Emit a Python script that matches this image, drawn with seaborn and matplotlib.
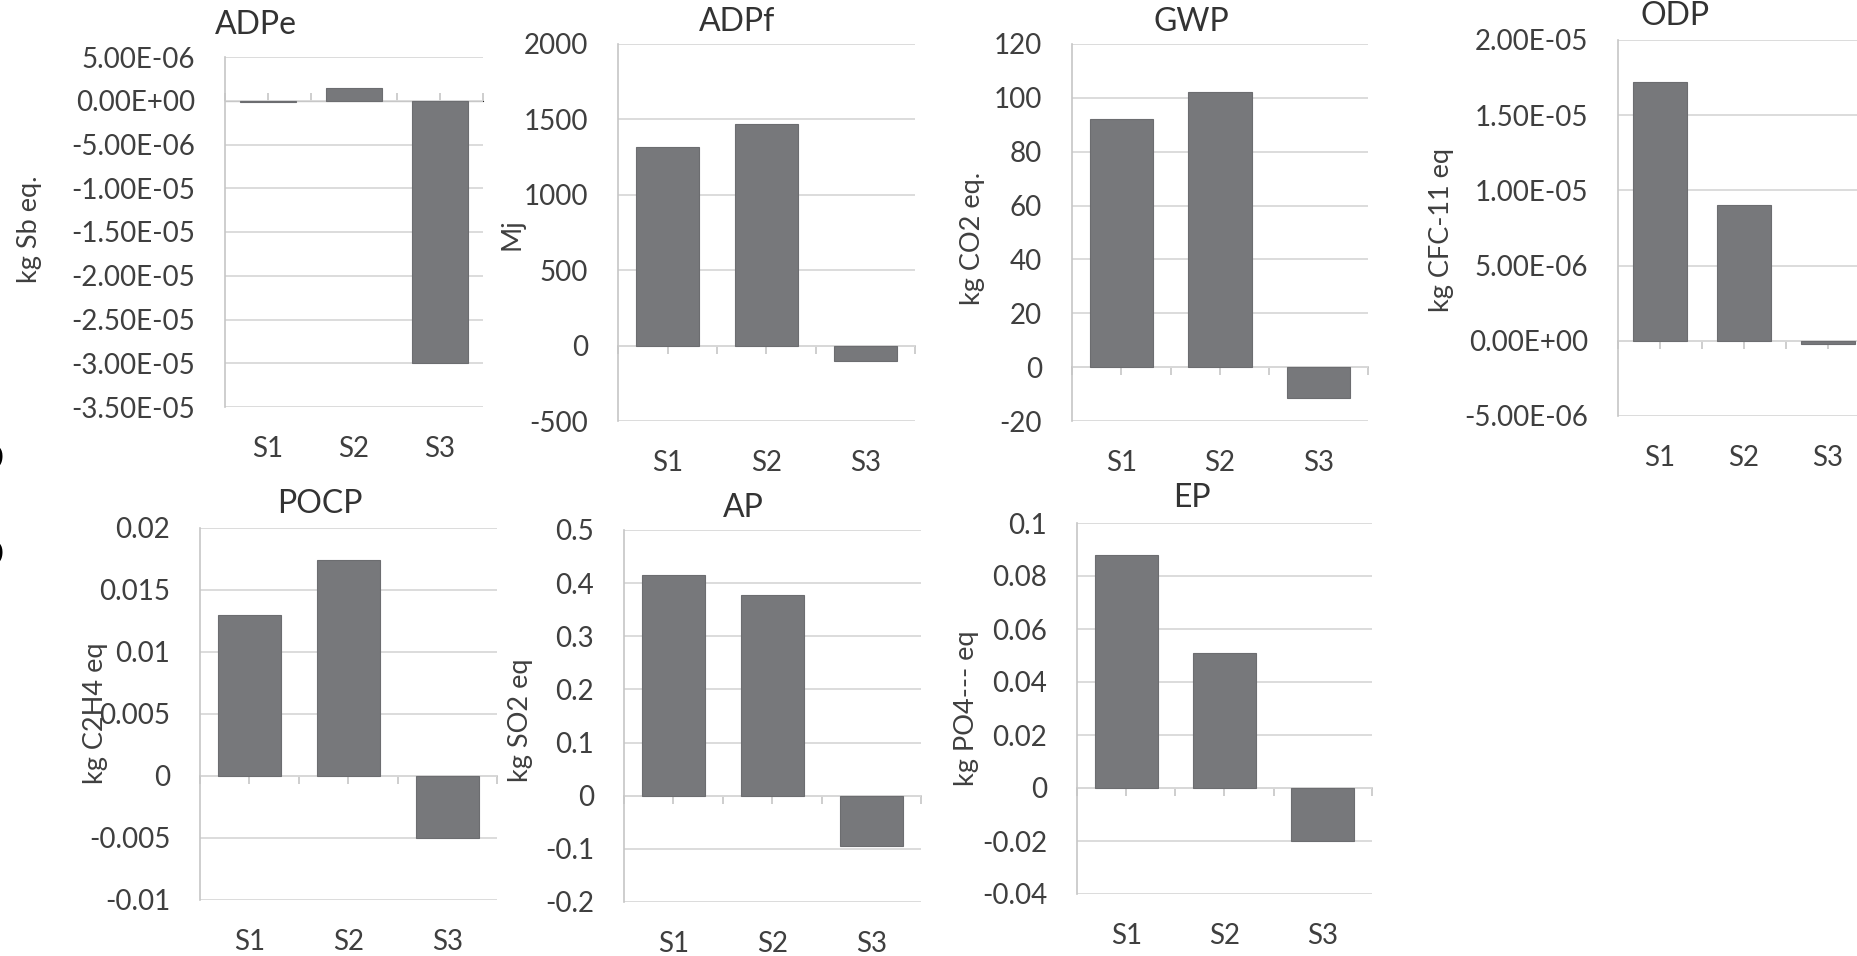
import matplotlib
matplotlib.use('Agg')
import matplotlib.pyplot as plt
from matplotlib import ticker
import seaborn as sns
import pandas as pd

# ========== Data ==========
scenarios = ['S1', 'S2', 'S3']

adpe = [-1.5e-7, 1.5e-6, -3.0e-5]
adpf = [1320, 1470, -100]
gwp = [92, 102, -11.5]
odp = [1.72e-5, 9.0e-6, -2e-7]
pocp = [0.013, 0.0174, -0.005]
ap = [0.415, 0.378, -0.094]
ep = [0.088, 0.051, -0.02]

titles = ['ADPe', 'ADPf', 'GWP', 'ODP', 'POCP', 'AP', 'EP']
units = ['kg Sb eq.', 'Mj', 'kg CO2 eq.', 'kg CFC-11 eq', 'kg C2H4 eq', 'kg SO2 eq', 'kg PO4--- eq']
values = [adpe, adpf, gwp, odp, pocp, ap, ep]

ylims = [(-3.5e-5, 5e-6), (-500, 2000), (-20, 120), (-5e-6, 2e-5),
         (-0.01, 0.02), (-0.2, 0.5), (-0.04, 0.1)]
steps = [5e-6, 500, 20, 5e-6, 0.005, 0.1, 0.02]
sci = [True, False, False, True, False, False, False]

# ========== Layout in pixels (left, top, right, bottom) ==========
W, H = 1858, 956
boxes = [(225, 57, 483, 407), (618, 44, 915, 421), (1072, 44, 1368, 421),
         (1618, 40, 1870, 416), (200, 528, 497, 900), (624, 530, 921, 902),
         (1077, 523, 1372, 894)]
title_pos = [(256, 42), (737, 39), (1191, 39), (1675, 33), (320, 521), (743, 525), (1192, 515)]
label_pos = [(30, 229), (512, 234), (973, 238), (1442, 230), (96, 713), (521, 720), (967, 708)]

BAR = '#77787b'
GRID = '#d9d9d9'
AXIS = '#c6c6c6'
TEXT = '#3f3f3f'

sns.set_style('white')
plt.rcParams['font.family'] = ['Lato', 'DejaVu Sans']

fig = plt.figure(figsize=(W / 100, H / 100), dpi=100)


def fmt_sci(v, _):
    return f'{v:.2E}'


def fmt_plain(v, _):
    v = round(v, 10) + 0.0
    return f'{v:g}'


for i, title in enumerate(titles):
    l, t, r, b = boxes[i]
    ax = fig.add_axes([l / W, 1 - b / H, (r - l) / W, (b - t) / H])
    df = pd.DataFrame({'scenario': scenarios, 'value': values[i]})
    sns.barplot(data=df, x='scenario', y='value', color=BAR, saturation=1,
                width=0.64, edgecolor='#6c6d70', linewidth=0.8, ax=ax)

    lo, hi = ylims[i]
    ax.set_ylim(lo, hi)
    ax.set_xlim(-0.5, 2.5)
    ax.yaxis.set_major_locator(ticker.MultipleLocator(steps[i]))
    ax.yaxis.set_minor_locator(ticker.AutoMinorLocator(5))
    ax.yaxis.set_major_formatter(ticker.FuncFormatter(fmt_sci if sci[i] else fmt_plain))
    ax.yaxis.grid(True, color=GRID, linewidth=1.3)
    ax.set_axisbelow(True)

    for side in ['top', 'right', 'bottom']:
        ax.spines[side].set_visible(False)
    ax.spines['left'].set_color(AXIS)
    ax.spines['left'].set_linewidth(1.2)

    ax.tick_params(axis='y', which='major', length=7.5, width=1.2, color=AXIS,
                   pad=14, labelsize=20, labelcolor=TEXT)
    ax.tick_params(axis='y', which='minor', length=5.5, width=1, color=AXIS)
    ax.tick_params(axis='x', length=0, pad=21, labelsize=20, labelcolor=TEXT)
    ax.set_xlabel('')

    # category axis crossing at zero
    zero = (0 - lo) / (hi - lo)
    sec = ax.secondary_xaxis(zero)
    sec.set_xticks([-0.5, 0, 0.5, 1, 1.5, 2, 2.5])
    sec.set_xticklabels([])
    sec.tick_params(length=6, width=1.2, color=AXIS, direction='out')
    sec.spines['bottom'].set_color(AXIS)
    sec.spines['bottom'].set_linewidth(1.2)

    tx, ty = title_pos[i]
    ax.set_title(title, fontsize=23, color='#333333', y=1 - (ty - t) / (b - t))
    ax.title.set_x((tx - l) / (r - l))

    lx, ly = label_pos[i]
    ax.set_ylabel(units[i], fontsize=19.5, color=TEXT, va='center')
    ax.yaxis.set_label_coords((lx - l) / (r - l), 1 - (ly - t) / (b - t))

# cut-off letters at the left edge of the screenshot
for yb in [470, 566]:
    fig.text(7 / W, 1 - yb / H, 'S', fontsize=45, fontweight='bold', color='black',
             ha='right', va='baseline', family='DejaVu Sans')

fig.savefig('out.png', dpi=100)
